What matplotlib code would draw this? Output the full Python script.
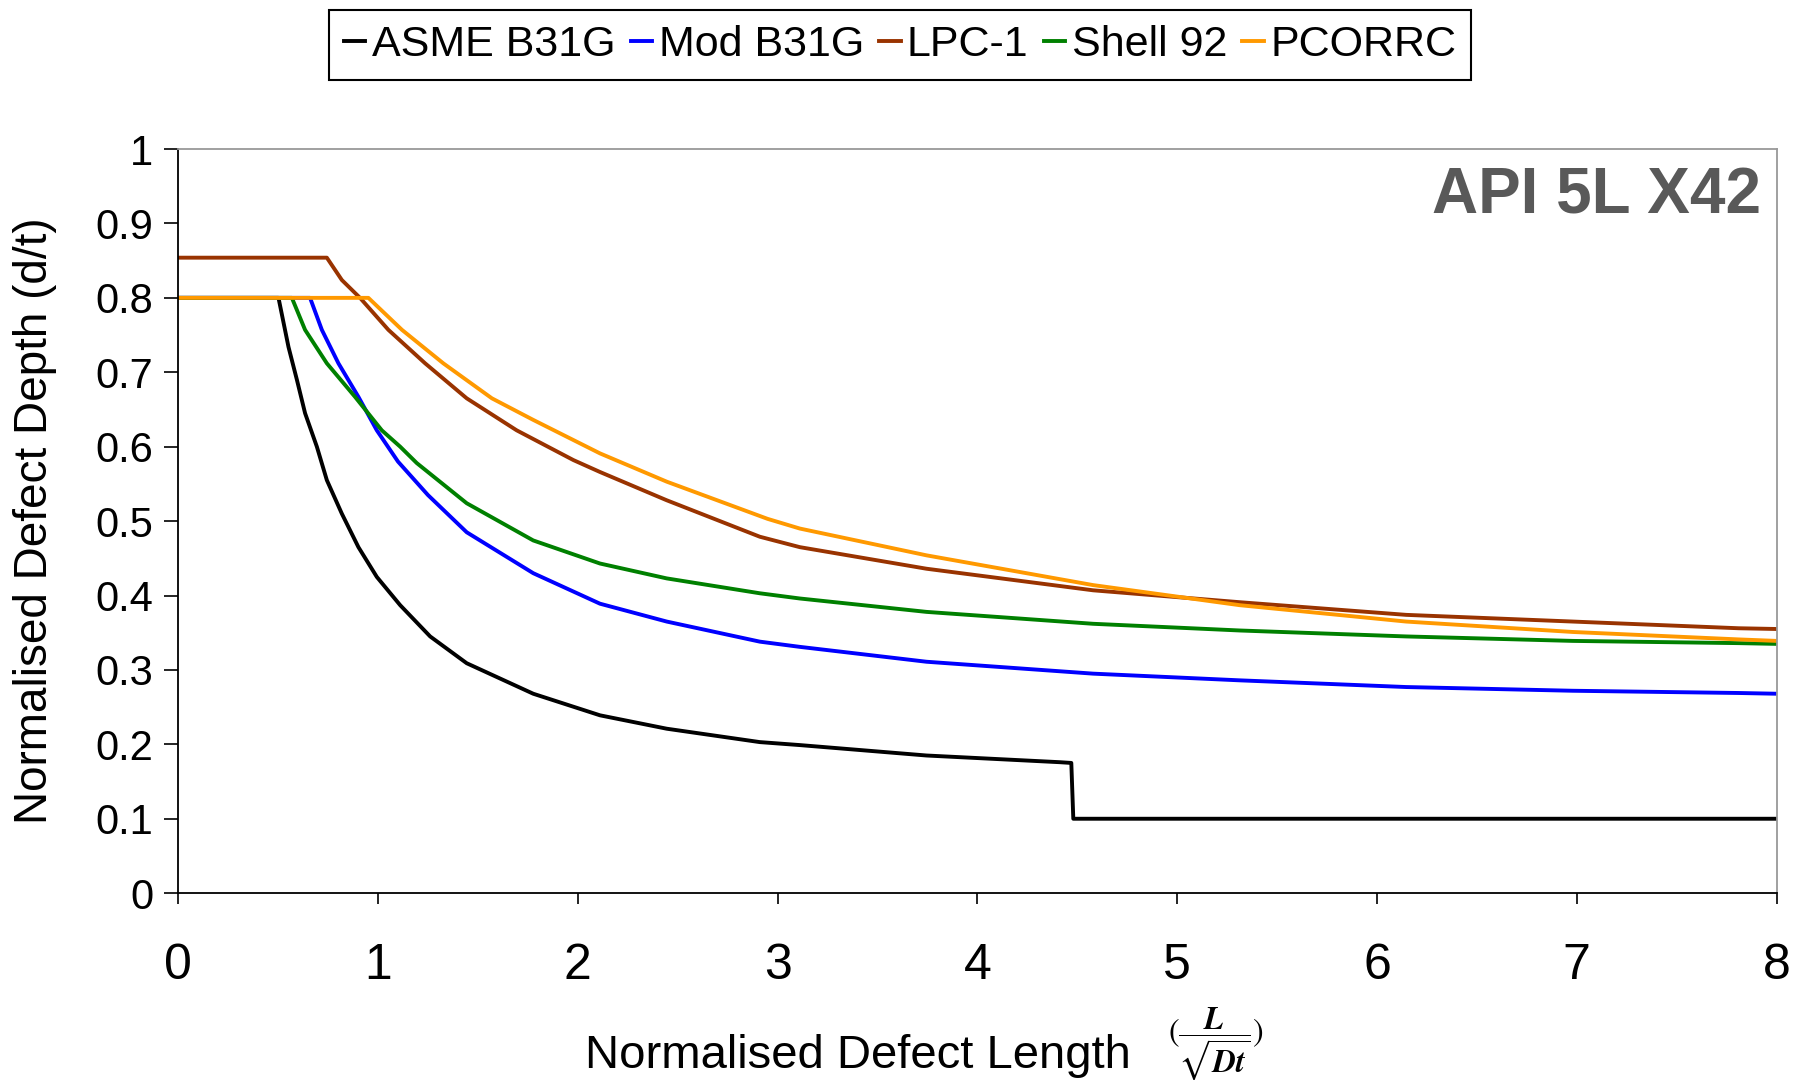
import matplotlib
matplotlib.use("Agg")
import matplotlib.pyplot as plt

# values
asme_x = [0, 0.502, 0.552, 0.594, 0.635, 0.694, 0.744, 0.819, 0.902, 0.994, 1.111,
          1.261, 1.444, 1.777, 2.111, 2.445, 2.911, 3.111, 3.745, 4.412, 4.47, 4.48, 8.0]
asme_y = [0.8, 0.8, 0.734, 0.690, 0.645, 0.600, 0.555, 0.510, 0.465, 0.425, 0.387,
          0.345, 0.309, 0.268, 0.239, 0.221, 0.203, 0.199, 0.185, 0.176, 0.175, 0.1, 0.1]

mod_x = [0, 0.66, 0.719, 0.802, 0.902, 0.994, 1.10, 1.25, 1.444, 1.777, 2.111,
         2.445, 2.911, 3.111, 3.745, 4.579, 5.313, 6.146, 6.98, 7.81, 8.0]
mod_y = [0.8, 0.8, 0.757, 0.712, 0.667, 0.622, 0.580, 0.535, 0.485, 0.430, 0.389,
         0.365, 0.338, 0.331, 0.311, 0.295, 0.286, 0.277, 0.272, 0.269, 0.268]

lpc_x = [0, 0.744, 0.819, 0.910, 1.052, 1.236, 1.444, 1.694, 1.978, 2.111, 2.445,
         2.911, 3.111, 3.745, 4.579, 5.313, 6.146, 6.98, 7.81, 8.0]
lpc_y = [0.854, 0.854, 0.824, 0.800, 0.757, 0.712, 0.665, 0.622, 0.582, 0.566, 0.528,
         0.479, 0.465, 0.436, 0.407, 0.391, 0.374, 0.365, 0.356, 0.355]

shell_x = [0, 0.569, 0.635, 0.744, 0.885, 1.019, 1.111, 1.194, 1.444, 1.777, 2.111,
           2.445, 2.911, 3.111, 3.745, 4.579, 5.313, 6.146, 6.98, 7.81, 8.0]
shell_y = [0.8, 0.8, 0.757, 0.712, 0.667, 0.622, 0.600, 0.578, 0.524, 0.474, 0.443,
           0.423, 0.403, 0.396, 0.378, 0.362, 0.353, 0.345, 0.339, 0.336, 0.335]

pcorrc_x = [0, 0.952, 1.12, 1.327, 1.57, 1.777, 2.111, 2.445, 2.95, 3.111, 3.745,
            4.579, 5.313, 6.146, 6.98, 7.81, 8.0]
pcorrc_y = [0.8, 0.8, 0.757, 0.712, 0.665, 0.636, 0.591, 0.553, 0.503, 0.490, 0.454,
            0.414, 0.387, 0.365, 0.351, 0.341, 0.339]

labels = ["ASME B31G", "Mod B31G", "LPC-1", "Shell 92", "PCORRC"]
colors = ["#000000", "#0000FF", "#993300", "#008000", "#FF9900"]

x_ticks = [0, 1, 2, 3, 4, 5, 6, 7, 8]
y_ticks = [0, 0.1, 0.2, 0.3, 0.4, 0.5, 0.6, 0.7, 0.8, 0.9, 1]
y_ticklabels = ["0", "0.1", "0.2", "0.3", "0.4", "0.5", "0.6", "0.7", "0.8", "0.9", "1"]

plt.rcParams["font.family"] = ["Liberation Sans", "DejaVu Sans"]
plt.rcParams["mathtext.fontset"] = "stix"

fig = plt.figure(figsize=(18, 10.8), dpi=100)
ax = fig.add_axes([0.099, 0.173, 0.888, 0.689])

series = [(asme_x, asme_y), (mod_x, mod_y), (lpc_x, lpc_y),
          (shell_x, shell_y), (pcorrc_x, pcorrc_y)]
lines = []
for (xs, ys), lab, col in zip(series, labels, colors):
    ln, = ax.plot(xs, ys, color=col, lw=2.8, label=lab)
    lines.append(ln)

ax.set_xlim(0, 8)
ax.set_ylim(0, 1)
ax.set_xticks(x_ticks)
ax.set_xticklabels([str(v) for v in x_ticks], fontsize=36)
ax.set_yticks(y_ticks)
ax.set_yticklabels(y_ticklabels, fontsize=30)
ax.tick_params(axis="x", direction="out", length=8, width=1.2, pad=28)
ax.tick_params(axis="y", direction="out", length=10, width=1.2, pad=8)

for side in ["left", "bottom"]:
    ax.spines[side].set_color("black")
    ax.spines[side].set_linewidth(1.3)
for side in ["top", "right"]:
    ax.spines[side].set_color("#999999")
    ax.spines[side].set_linewidth(1.3)

ax.text(0.99, 0.977, "API 5L X42", transform=ax.transAxes, ha="right", va="top",
        fontsize=46, fontweight="bold", color="#595959")

fig.text(0.0195, 0.518, "Normalised Defect Depth (d/t)", rotation=90,
         ha="center", va="center", fontsize=33)
fig.text(0.325, 0.0115, "Normalised Defect Length", ha="left", va="baseline",
         fontsize=34)
fig.text(0.649, 0.033, r"$(\dfrac{\mathbfit{L}}{\sqrt{\mathbfit{Dt}}})$",
         ha="left", va="center", fontsize=23)

leg = fig.legend(handles=lines, loc="center", bbox_to_anchor=(0.5, 0.958), ncol=5,
                 fontsize=31, frameon=True, fancybox=False,
                 edgecolor="black", framealpha=1, handlelength=0.5,
                 handletextpad=0.15, columnspacing=0.35, borderpad=0.35)
leg.get_frame().set_linewidth(1.5)

fig.savefig("out.png", dpi=100)
